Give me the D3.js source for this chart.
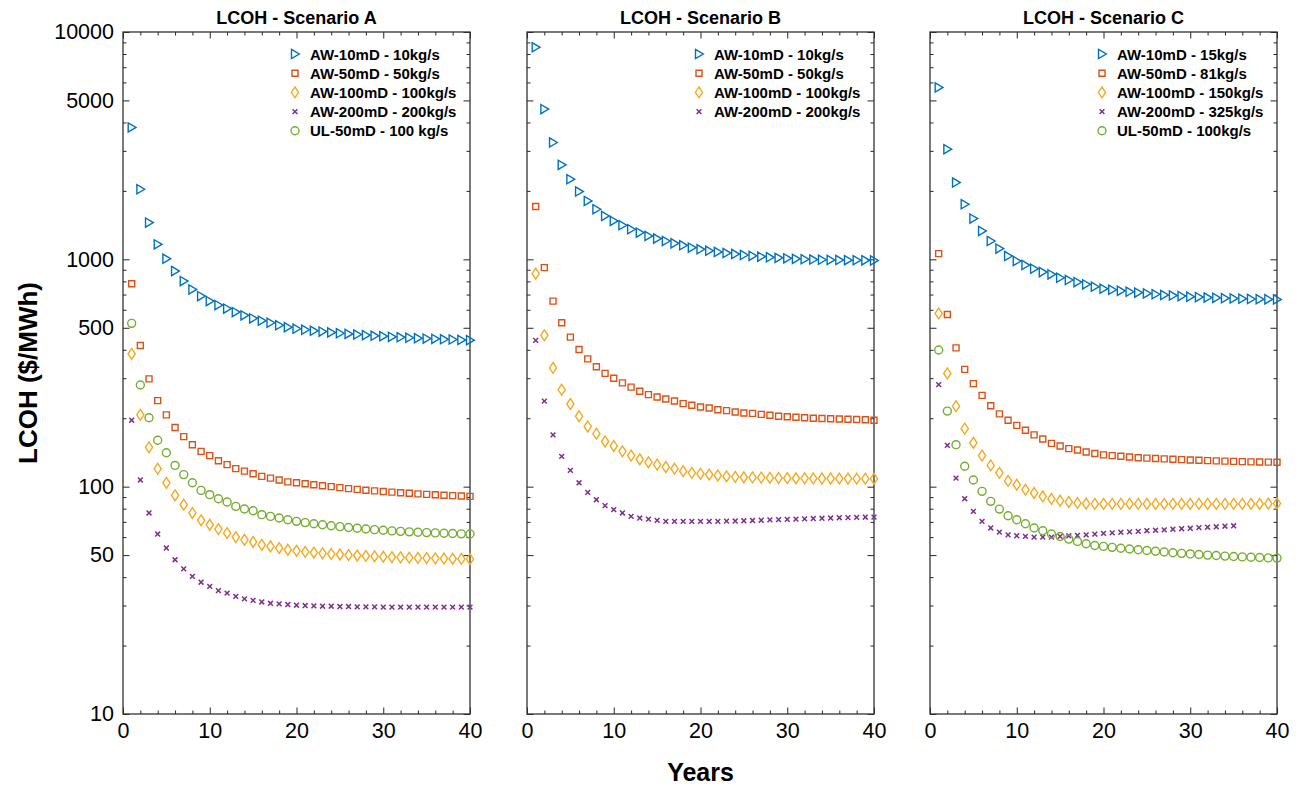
<!DOCTYPE html>
<html>
<head>
<meta charset="utf-8">
<script src="https://cdn.jsdelivr.net/npm/d3@7"></script>
<style>
  body { margin: 0; background: #fff; }
  text { font-family: "Liberation Sans", Arial, Helvetica, sans-serif; fill: #000; }
</style>
</head>
<body>
<div id="chart"></div>
<script>
// years of operation
var years = d3.range(1, 41);

// Scenario A
var a10  = [3802,2034,1451,1164,1007,888,802,737,689,655,629,607,586,567,550,537,526,513,503,495,490,485,481,477,473,470,467,464,461,459,456,454,452,450,448,447,445,444,442,441];
var a50  = [781,418,298,239,207,182,166,153,143,137,130,125,120,117,114,111,109,107,105,104,103,102,101,100,99,98,97.3,96.5,95.8,95.2,94.6,94,93.5,93,92.5,92.1,91.7,91.3,91,90.6];
var a100 = [384,207,149,120,104,91.6,83.3,76.6,71.1,68,65.1,62.5,60,58.4,57.1,55.5,54.6,53.7,52.8,52.2,51.7,51.3,50.9,50.6,50.3,50,49.8,49.6,49.4,49.2,49,48.9,48.7,48.6,48.5,48.4,48.3,48.2,48.1,48];
var a200 = [196,107,76.6,61.9,53.7,47.7,43.5,40.3,38,36.4,34.9,34,32.9,32.1,31.6,31.1,30.7,30.5,30.3,30.1,30,29.9,29.8,29.8,29.7,29.7,29.6,29.6,29.6,29.5,29.5,29.5,29.5,29.5,29.5,29.5,29.5,29.5,29.5,29.5];
var aUL  = [523,280,201,160,141,124,113,104,96.3,92.2,88.5,85.6,81.9,79.8,78.4,75.3,74,72.8,71.5,70.4,69.5,68.7,68,67.3,66.7,66.1,65.6,65.1,64.7,64.3,63.9,63.6,63.3,63,62.8,62.6,62.4,62.2,62,61.9];

// Scenario B
var b10  = [8565,4580,3266,2604,2251,1987,1806,1661,1552,1475,1412,1356,1311,1267,1234,1204,1176,1153,1126,1107,1092,1078,1066,1055,1045,1036,1028,1021,1015,1010,1005,1001,998,996,994,993,992,991,990,989];
var b50  = [1707,919,655,526,455,401,365,337,315,300,286,274,263,254,248,243,238,232,228,224,222,218,216,213,211,210,208,206,204,203,202,201,200,199.5,199,198.5,198,197.5,197,196];
var b100 = [865,463,333,267,231,204,184,171,158,151,143,137,132,128,125,122,120,117,115,114,113,112,111,110.5,110,109.8,109.6,109.4,109.2,109,108.9,108.8,108.7,108.6,108.6,108.5,108.5,108.4,108.4,108.4];
var b200 = [440,238,169,136,118,104,94.4,87.6,82.5,79.2,76.6,74,72.8,72,71.1,70.4,70.4,70.4,70.4,70.4,70.4,70.4,70.5,70.6,70.8,71,71.2,71.4,71.6,71.8,72,72.2,72.4,72.6,72.8,73,73.1,73.3,73.4,73.5];

// Scenario C
var c10  = [5706,3051,2177,1747,1511,1333,1204,1115,1034,983,944,910,879,859,830,811,794,776,758,743,735,727,720,714,708,702,697,693,689,685,682,679,677,675,673,671,669,668,667,666];
var c50  = [1059,572,408,328,284,252,227,209,196,186,177,169,162,155,151,147,145,142,140,138,137,136,135,134,133.5,133,132.5,132,131.5,131,130.6,130.2,129.8,129.5,129.2,128.9,128.6,128.4,128.2,128];
var c100 = [578,315,226,180,156,137,124,115,106,102,97,93.8,90.6,88.3,86.8,85.6,84.8,84.2,84,84,84,84,84,84,84,84,84,84,84,84,84,84,84,84,84,84,84,84,84.2,84.4];
var c200 = [281,152,109,88.5,77.9,70.4,65.8,63.1,61.4,60.8,60.4,60,60,60,60.4,60.8,61,61.4,61.8,62.3,62.6,63,63.3,63.6,64,64.3,64.6,65,65.3,65.6,66,66.3,66.6,67,67.3];
var cUL  = [399,215,153,123,107,95.4,86.2,79.7,74.5,71.5,68.7,65.8,64,61.9,60.4,58.8,57.4,56.1,55.1,54.6,54.1,53.6,53.2,52.8,52.4,52,51.6,51.2,50.9,50.6,50.3,50,49.8,49.5,49.3,49.1,48.9,48.8,48.6,48.5];

var titles = ["LCOH - Scenario A", "LCOH - Scenario B", "LCOH - Scenario C"];
var labelsA = ["AW-10mD - 10kg/s", "AW-50mD - 50kg/s", "AW-100mD - 100kg/s", "AW-200mD - 200kg/s", "UL-50mD - 100 kg/s"];
var labelsB = ["AW-10mD - 10kg/s", "AW-50mD - 50kg/s", "AW-100mD - 100kg/s", "AW-200mD - 200kg/s"];
var labelsC = ["AW-10mD - 15kg/s", "AW-50mD - 81kg/s", "AW-100mD - 150kg/s", "AW-200mD - 325kg/s", "UL-50mD - 100kg/s"];

var xTicks = [0, 10, 20, 30, 40];
var yTicks = [10, 50, 100, 500, 1000, 5000, 10000];

var colors  = ["#0072BD", "#D95319", "#F5A91F", "#7E2F8E", "#77AC30"];
var markers = ["tri", "square", "diamond", "cross", "circle"];

var panels = [
  {title: titles[0], series: [a10, a50, a100, a200, aUL], labels: labelsA},
  {title: titles[1], series: [b10, b50, b100, b200], labels: labelsB},
  {title: titles[2], series: [c10, c50, c100, c200, cUL], labels: labelsC}
];

var W = 1298, H = 789;
var lefts = [123, 527, 930], pw = 347, plotTop = 32, plotBottom = 714;

var svg = d3.select("#chart").append("svg")
  .attr("width", W).attr("height", H);

var y = d3.scaleLog().domain([10, 10000]).range([plotBottom, plotTop]);
var yMinor = [];
[10, 100, 1000].forEach(function(d) {
  for (var k = 2; k <= 9; k++) if (k != 5) yMinor.push(d * k);
});
var xMinor = d3.range(0, 41, 2).filter(function(d) { return d % 10 != 0; });

function marker(g, type, color) {
  var s = g.append("path")
    .attr("fill", "none")
    .attr("stroke", color)
    .attr("stroke-width", 1.4);
  if (type == "tri") s.attr("d", "M-3.5,-4.6L4.3,0L-3.5,4.6Z");
  else if (type == "square") s.attr("d", "M-3,-3H3V3H-3Z");
  else if (type == "diamond") s.attr("d", "M0,-5.4L3.6,0L0,5.4L-3.6,0Z");
  else if (type == "cross") s.attr("d", "M-2.4,-2.4L2.4,2.4M-2.4,2.4L2.4,-2.4").attr("stroke-width", 1.5);
  else s.attr("d", d3.symbol(d3.symbolCircle, 50)());
}

panels.forEach(function(p, i) {
  var x = d3.scaleLinear().domain([0, 40]).range([lefts[i], lefts[i] + pw]);
  var g = svg.append("g");

  // axes (ticks point inward, mirrored on top/right)
  function ax(axisFn, scale, vals, size, pos, fmt) {
    var a = axisFn(scale).tickValues(vals).tickSizeInner(size).tickSizeOuter(0).tickPadding(9);
    a.tickFormat(fmt || "");
    var gg = g.append("g").attr("transform", pos).call(a);
    gg.select(".domain").remove();
    gg.selectAll("line").attr("stroke", "#262626").attr("stroke-width", 1);
    gg.selectAll("text").attr("font-size", 21.5).attr("fill", "#262626")
      .attr("font-family", "'Liberation Sans', Arial, sans-serif");
    return gg;
  }
  ax(d3.axisBottom, x, xTicks, -6.5, "translate(0," + plotBottom + ")", d3.format("d"));
  ax(d3.axisBottom, x, xMinor, -3.5, "translate(0," + plotBottom + ")");
  ax(d3.axisTop, x, xTicks, -6.5, "translate(0," + plotTop + ")");
  ax(d3.axisTop, x, xMinor, -3.5, "translate(0," + plotTop + ")");
  ax(d3.axisLeft, y, yTicks, -6.5, "translate(" + lefts[i] + ",0)", i == 0 ? d3.format("d") : null);
  ax(d3.axisLeft, y, yMinor, -3.5, "translate(" + lefts[i] + ",0)");
  ax(d3.axisRight, y, yTicks, -6.5, "translate(" + (lefts[i] + pw) + ",0)");
  ax(d3.axisRight, y, yMinor, -3.5, "translate(" + (lefts[i] + pw) + ",0)");

  g.append("rect")
    .attr("x", lefts[i]).attr("y", plotTop)
    .attr("width", pw).attr("height", plotBottom - plotTop)
    .attr("fill", "none").attr("stroke", "#333").attr("stroke-width", 1.3);

  g.append("text")
    .attr("x", lefts[i] + pw / 2).attr("y", 24)
    .attr("text-anchor", "middle")
    .attr("font-size", 18).attr("font-weight", "bold")
    .text(p.title);

  // data
  p.series.forEach(function(vals, k) {
    g.append("g").selectAll("g")
      .data(vals)
      .enter().append("g")
      .attr("transform", function(d, j) { return "translate(" + x(years[j]) + "," + y(d) + ")"; })
      .each(function() { marker(d3.select(this), markers[k], colors[k]); });
  });

  // legend
  var lg = g.append("g").attr("transform", "translate(" + (lefts[i] + 172) + ",0)");
  p.labels.forEach(function(lab, k) {
    var yy = 54 + k * 19.2;
    marker(lg.append("g").attr("transform", "translate(0," + yy + ")"), markers[k], colors[k]);
    lg.append("text")
      .attr("x", 15).attr("y", yy + 5.5)
      .attr("font-size", 15).attr("font-weight", "bold")
      .text(lab);
  });
});

svg.append("text")
  .attr("transform", "translate(37," + ((plotTop + plotBottom) / 2) + ") rotate(-90)")
  .attr("text-anchor", "middle")
  .attr("font-size", 26).attr("font-weight", "bold").attr("fill", "#262626")
  .text("LCOH ($/MWh)");

svg.append("text")
  .attr("x", lefts[1] + pw / 2).attr("y", 781)
  .attr("text-anchor", "middle")
  .attr("font-size", 25).attr("font-weight", "bold").attr("fill", "#262626")
  .text("Years");
</script>
</body>
</html>
